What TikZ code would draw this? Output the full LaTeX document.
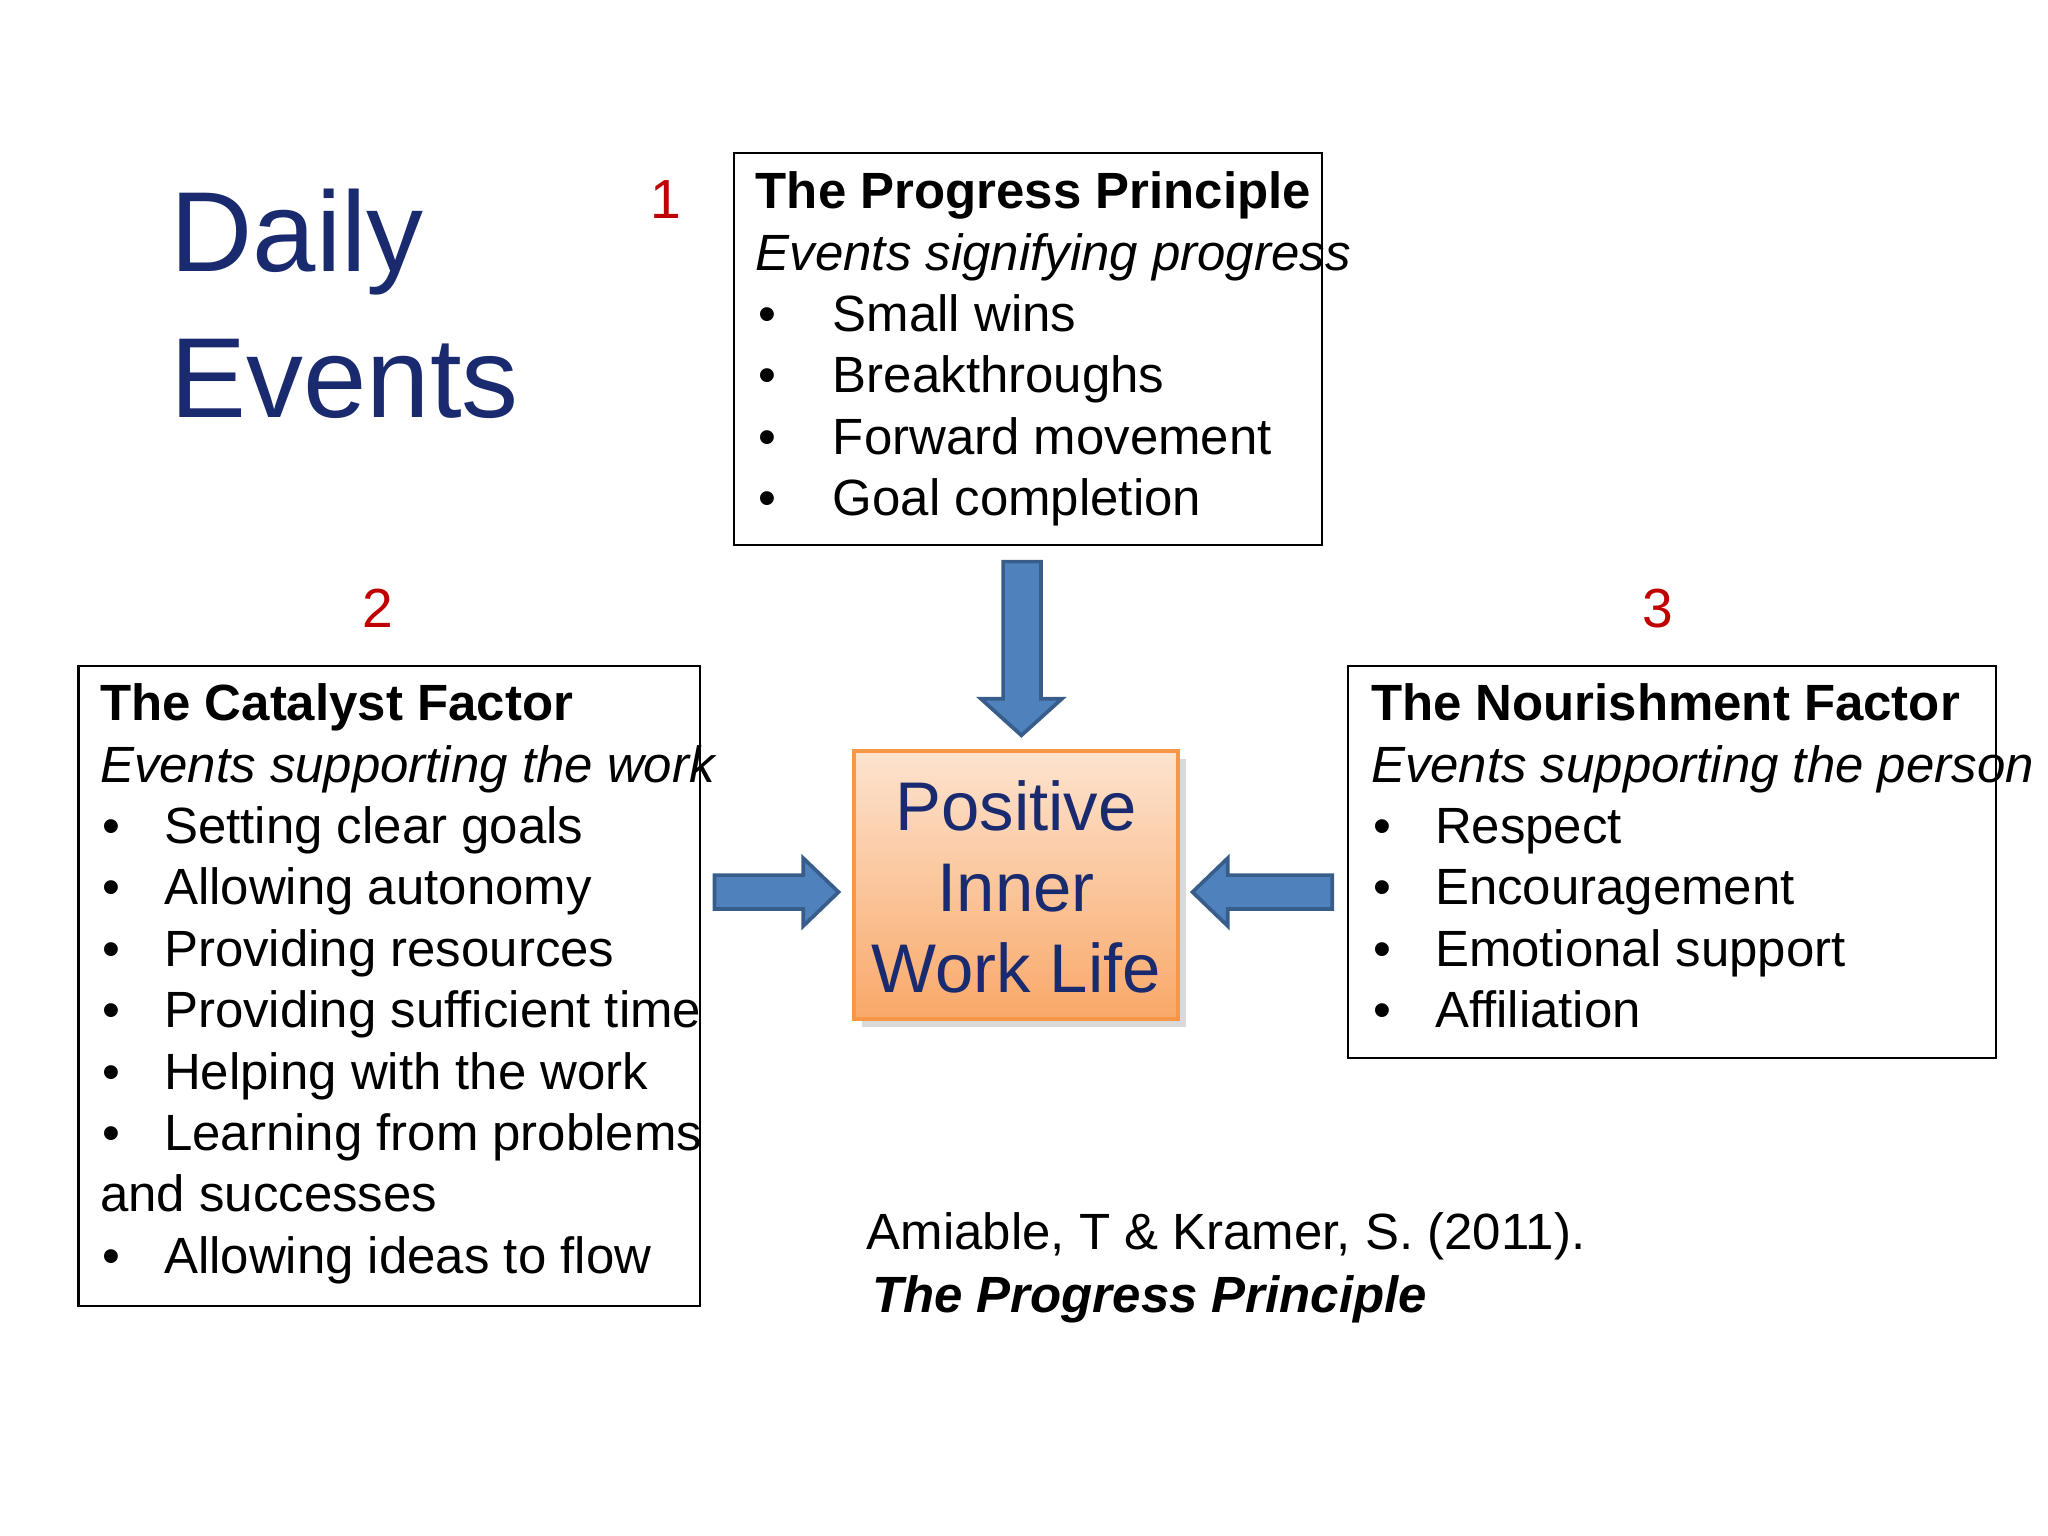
\documentclass[tikz,border=0pt]{standalone}
\usepackage{fontspec}
\setmainfont{Liberation Sans}
\usetikzlibrary{shapes.arrows,shadows}
\definecolor{navy}{HTML}{1A2A6E}
\definecolor{ared}{HTML}{C00000}
\definecolor{ablue}{HTML}{4F81BD}
\definecolor{ablueD}{HTML}{385D8A}
\definecolor{oraL}{HTML}{FDE3CF}
\definecolor{oraD}{HTML}{F9A869}
\definecolor{oraB}{HTML}{F79646}
\tikzset{
 tl/.style={anchor=west,inner sep=0pt,text height=8pt,text depth=2.4pt,font=\fontsize{11.1}{13}\selectfont},
 bx/.style={draw=black,line width=0.5pt},
 num/.style={text=ared,font=\fontsize{12}{14}\selectfont},
 blk/.style={fill=ablue,draw=ablueD,line width=0.8pt}
}
\begin{document}
\begin{tikzpicture}[x=0.1mm,y=-0.1mm]
\useasboundingbox (0,0) rectangle (1568,1176);
\node[anchor=west,inner sep=0pt,text=navy,font=\fontsize{24.8}{28}\selectfont] (d1) at (130,185) {Daily};
\node[anchor=west,inner sep=0pt,text=navy,font=\fontsize{24.8}{28}\selectfont] (d2) at (130,290) {Events};
\node[num] (n1) at (510,153) {1};
\node[num] (n2) at (289,466) {2};
\node[num] (n3) at (1269,466) {3};
% boxes
\draw[bx] (562,117) rectangle (1012,417);
\draw[bx] (60,510) rectangle (536,1000);
\draw[bx] (1032,510) rectangle (1528,810);
% progress
\node[tl,font=\fontsize{11.1}{13}\selectfont\bfseries] (p0) at (578,150) {The Progress Principle};
\node[tl,font=\fontsize{11.1}{13}\selectfont\itshape] (p1) at (578,197) {Events signifying progress};
\foreach \t [count=\i] in {Small wins,Breakthroughs,Forward movement,Goal completion}{
 \node[tl] (pb\i) at (580,197+47*\i) {•};
 \node[tl] (pt\i) at (637,197+47*\i) {\t};}
% catalyst
\node[tl,font=\fontsize{11.1}{13}\selectfont\bfseries] (c0) at (76,542) {The Catalyst Factor};
\node[tl,font=\fontsize{11.1}{13}\selectfont\itshape] (c1) at (76,589) {Events supporting the work};
\foreach \t/\y [count=\i] in {Setting clear goals/636,Allowing autonomy/683,Providing resources/730,Providing sufficient time/777,Helping with the work/824,Learning from problems/871,Allowing ideas to flow/965}{
 \node[tl] (cb\i) at (78,\y) {•};
 \node[tl] (ct\i) at (125,\y) {\t};}
\node[tl] (cx) at (76,918) {and successes};
% nourishment
\node[tl,font=\fontsize{11.1}{13}\selectfont\bfseries] (r0) at (1049,542) {The Nourishment Factor};
\node[tl,font=\fontsize{11.1}{13}\selectfont\itshape] (r1) at (1049,589) {Events supporting the person};
\foreach \t [count=\i] in {Respect,Encouragement,Emotional support,Affiliation}{
 \node[tl] (rb\i) at (1051,589+47*\i) {•};
 \node[tl] (rt\i) at (1098,589+47*\i) {\t};}
% center
\node[draw=oraB,line width=0.8pt,top color=oraL,bottom color=oraD,minimum width=24.8mm,minimum height=20.5mm,inner sep=0pt,drop shadow={opacity=0.3,shadow xshift=0.6mm,shadow yshift=-0.6mm}] (c) at (778,677.5) {};
\node[text=navy,align=center,font=\fontsize{15}{17.6}\selectfont] (ct) at (778,679) {Positive\\Inner\\Work Life};
% arrows
\draw[blk] (768,430) -- (797,430) -- (797,535) -- (813,535) -- (782,563) -- (751,535) -- (768,535) -- cycle;
\draw[blk] (547,670) -- (615,670) -- (615,657) -- (642,683) -- (615,709) -- (615,696) -- (547,696) -- cycle;
\draw[blk] (1020,670) -- (940,670) -- (940,657) -- (913,683) -- (940,709) -- (940,696) -- (1020,696) -- cycle;
% citation
\node[tl] (ref1) at (663,947) {Amiable, T \& Kramer, S. (2011).};
\node[tl,font=\fontsize{11.1}{13}\selectfont\bfseries\itshape] (ref2) at (667,995) {The Progress Principle};
\end{tikzpicture}
\end{document}
